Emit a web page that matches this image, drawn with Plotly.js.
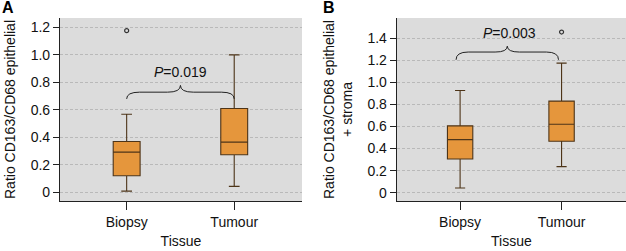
<!DOCTYPE html>
<html>
<head>
<meta charset="utf-8">
<script src="https://cdn.plot.ly/plotly-3.0.1.min.js"></script>
<style>html,body{margin:0;padding:0;background:#fff;}#chart{width:626px;height:251px;}</style>
</head>
<body>
<div id="chart"></div>
<script>
// ---- data ----
const categories = ["Biopsy", "Tumour"];
// Panel A: Ratio CD163/CD68 epithelial
const aLower  = [0.01, 0.044];
const aQ1     = [0.121, 0.274];
const aMedian = [0.293, 0.366];
const aQ3     = [0.370, 0.610];
const aUpper  = [0.569, 1.000];
const aOutlierX = [0];
const aOutlierY = [1.176];
const aPText = "<i>P</i>=0.019";
// Panel B: Ratio CD163/CD68 epithelial + stroma
const bLower  = [0.043, 0.236];
const bQ1     = [0.305, 0.466];
const bMedian = [0.480, 0.620];
const bQ3     = [0.605, 0.829];
const bUpper  = [0.925, 1.173];
const bOutlierX = [1];
const bOutlierY = [1.454];
const bPText = "<i>P</i>=0.003";
const aTicks = [0, 0.2, 0.4, 0.6, 0.8, 1.0, 1.2];
const aTickText = ["0", "0.2", "0.4", "0.6", "0.8", "1.0", "1.2"];
const bTicks = [0, 0.2, 0.4, 0.6, 0.8, 1.0, 1.2, 1.4];
const bTickText = ["0", "0.2", "0.4", "0.6", "0.8", "1.0", "1.2", "1.4"];

// ---- styling ----
const FONT = "Liberation Sans, Arial, Helvetica, sans-serif";
const boxFill = "#E5963C";
const boxLine = "#4d3418";
const xPos = categories.map((c, i) => i);

function boxTrace(lo, q1, med, q3, up, xa, ya) {
  return {
    type: "box", x: xPos, q1: q1, median: med, q3: q3,
    lowerfence: lo, upperfence: up,
    xaxis: xa, yaxis: ya, width: 0.25, whiskerwidth: 0.4,
    fillcolor: boxFill, line: {color: boxLine, width: 1.1},
    boxpoints: false, showlegend: false, hoverinfo: "skip"
  };
}
function outTrace(x, y, xa, ya) {
  return {
    type: "scatter", mode: "markers", x: x, y: y, xaxis: xa, yaxis: ya,
    marker: {symbol: "circle-open", size: 4, color: "#333", line: {width: 1.2}},
    showlegend: false, hoverinfo: "skip"
  };
}
function bracePath(x0, x1, yEnd, yArm, yPeak, d) {
  const xm = (x0 + x1) / 2;
  return `M${x0},${yEnd} Q${x0},${yArm} ${x0 + d},${yArm} L${xm - d},${yArm} Q${xm},${yArm} ${xm},${yPeak} ` +
         `Q${xm},${yArm} ${xm + d},${yArm} L${x1 - d},${yArm} Q${x1},${yArm} ${x1},${yEnd}`;
}

const data = [
  boxTrace(aLower, aQ1, aMedian, aQ3, aUpper, "x", "y"),
  outTrace(aOutlierX, aOutlierY, "x", "y"),
  boxTrace(bLower, bQ1, bMedian, bQ3, bUpper, "x2", "y2"),
  outTrace(bOutlierX, bOutlierY, "x2", "y2")
];

const xCommon = {
  tickvals: xPos, ticktext: categories, showgrid: false, zeroline: false,
  showline: true, linecolor: "#222", linewidth: 1, ticks: "outside",
  ticklen: 8, tickcolor: "#222", tickfont: {family: FONT, size: 14, color: "#111"},
  title: {text: "Tissue", font: {family: FONT, size: 14, color: "#111"}, standoff: 7}
};
const yCommon = {
  showgrid: true, gridcolor: "#b0b0b0", griddash: "3px,2px", gridwidth: 0.8,
  zeroline: false, showline: true, linecolor: "#222", linewidth: 1,
  ticks: "outside", ticklen: 6, tickcolor: "#222",
  tickfont: {family: FONT, size: 14, color: "#111"}
};

const layout = {
  width: 626, height: 251,
  margin: {l: 0, r: 0, t: 18, b: 50},
  paper_bgcolor: "#ffffff", plot_bgcolor: "#dcdcdc",
  font: {family: FONT, color: "#111"},
  xaxis: Object.assign({}, xCommon, {domain: [0.0958, 0.4824], range: [-0.62, 1.63]}),
  yaxis: Object.assign({}, yCommon, {range: [-0.062, 1.268], tickvals: aTicks, ticktext: aTickText,
    title: {text: "Ratio CD163/CD68 epithelial", font: {family: FONT, size: 14, color: "#111"}, standoff: 11}}),
  xaxis2: Object.assign({}, xCommon, {domain: [0.6337, 1.0], range: [-0.625, 1.635], anchor: "y2"}),
  yaxis2: Object.assign({}, yCommon, {range: [-0.075, 1.581], tickvals: bTicks, ticktext: bTickText, anchor: "x2",
    title: {text: "Ratio CD163/CD68 epithelial<br>+ stroma", font: {family: FONT, size: 14, color: "#111"}, standoff: 11}}),
  shapes: [
    {type: "path", xref: "x", yref: "y", path: bracePath(xPos[0], xPos[1], 0.68, 0.729, 0.778, 0.12),
     line: {color: "#222", width: 1}},
    {type: "path", xref: "x2", yref: "y2", path: bracePath(xPos[0] - 0.04, xPos[1] - 0.03, 1.203, 1.273, 1.326, 0.12),
     line: {color: "#222", width: 1}}
  ],
  annotations: [
    {xref: "x", yref: "y", x: 0.5, y: 0.80, text: aPText, showarrow: false, yanchor: "bottom",
     font: {family: FONT, size: 14, color: "#111"}},
    {xref: "x2", yref: "y2", x: 0.485, y: 1.352, text: bPText, showarrow: false, yanchor: "bottom",
     font: {family: FONT, size: 14, color: "#111"}},
    {xref: "paper", yref: "paper", x: 0.0, y: 1.06, xanchor: "left", yanchor: "middle", text: "<b>A</b>",
     showarrow: false, font: {family: FONT, size: 16, color: "#000"}},
    {xref: "paper", yref: "paper", x: 0.512, y: 1.06, xanchor: "left", yanchor: "middle", text: "<b>B</b>",
     showarrow: false, font: {family: FONT, size: 16, color: "#000"}}
  ]
};

Plotly.newPlot("chart", data, layout, {staticPlot: true, displayModeBar: false});
</script>
</body>
</html>
